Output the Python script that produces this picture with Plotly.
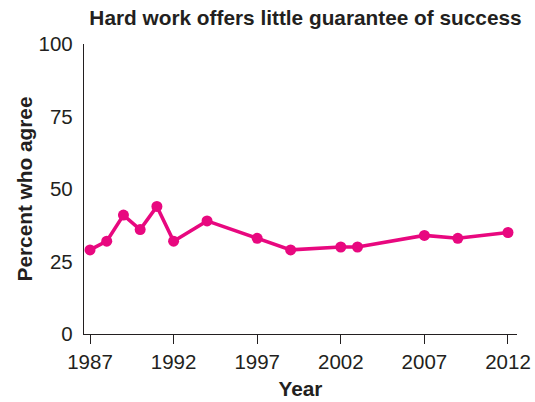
import plotly.graph_objects as go

# Survey share agreeing that hard work offers little guarantee of success
years = [1987, 1988, 1989, 1990, 1991, 1992, 1994, 1997, 1999, 2002, 2003, 2007, 2009, 2012]
percent_agree = [29, 32, 41, 36, 44, 32, 39, 33, 29, 30, 30, 34, 33, 35]

x_ticks = [1987, 1992, 1997, 2002, 2007, 2012]
y_ticks = [0, 25, 50, 75, 100]

MAGENTA = "#E8087F"
INK = "#231f20"
FONT = "Liberation Sans, Arial, Helvetica, sans-serif"

fig = go.Figure(
    go.Scatter(
        x=years,
        y=percent_agree,
        mode="lines+markers",
        line=dict(color=MAGENTA, width=3.6),
        marker=dict(color=MAGENTA, size=11),
        hoverinfo="x+y",
    )
)

fig.update_layout(
    width=535,
    height=402,
    margin=dict(l=84, r=18, t=44, b=68),
    paper_bgcolor="white",
    plot_bgcolor="white",
    showlegend=False,
    font=dict(family=FONT, color=INK, size=20.5),
    title=dict(
        text="<b>Hard work offers little guarantee of success</b>",
        x=0.571,
        xanchor="center",
        y=0.955,
        yanchor="middle",
        font=dict(size=20.8, family=FONT, color=INK),
    ),
)

fig.update_xaxes(
    range=[1986.64, 2012.54],
    tickvals=x_ticks,
    ticktext=[str(v) for v in x_ticks],
    ticks="outside",
    ticklen=9,
    tickwidth=1.2,
    tickcolor=INK,
    showline=True,
    linecolor=INK,
    linewidth=1.3,
    showgrid=False,
    zeroline=False,
    automargin=False,
    tickfont=dict(size=20.5),
    title=dict(text="<b>Year</b>", font=dict(size=20.8), standoff=9),
)

fig.update_yaxes(
    range=[0, 100],
    tickvals=y_ticks,
    ticks="",
    showline=True,
    linecolor=INK,
    linewidth=1.3,
    showgrid=False,
    zeroline=False,
    automargin=False,
    tickfont=dict(size=20.5),
    ticklabelstandoff=6,
    title=dict(text="<b>Percent who agree</b>", font=dict(size=20.8), standoff=0),
)

fig.write_html("out.html")
